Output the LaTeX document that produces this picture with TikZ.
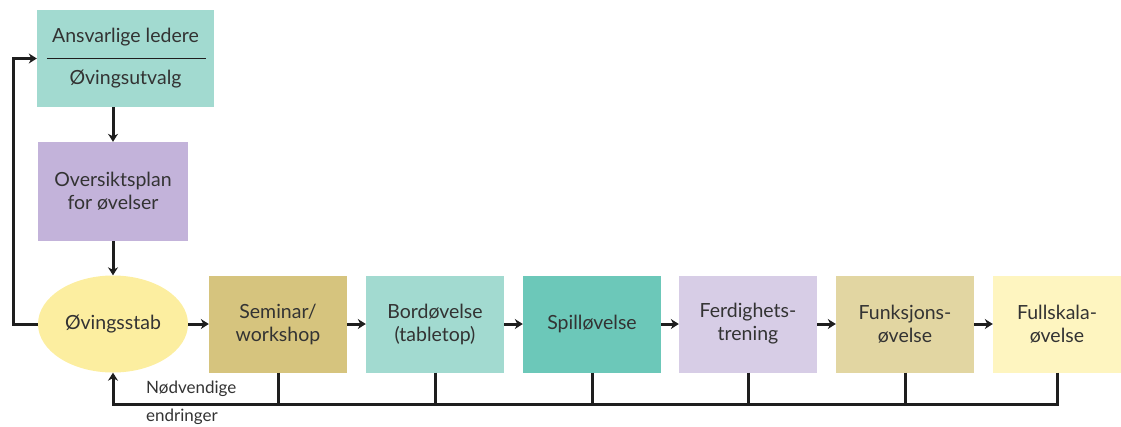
\documentclass[tikz,border=0pt]{standalone}
\usepackage{fontspec}
\setmainfont{Lato}
\usetikzlibrary{
  arrows.meta,
  shapes.geometric
}
\definecolor{textgrey}{HTML}{333333}
\definecolor{linegrey}{HTML}{1E1E1E}
\definecolor{tealpale}{HTML}{A2DAD0}
\definecolor{tealmid}{HTML}{6CC8B9}
\definecolor{lavender}{HTML}{C3B3DA}
\definecolor{lilac}{HTML}{D7CDE6}
\definecolor{butter}{HTML}{FCEEA0}
\definecolor{cream}{HTML}{FEF5C0}
\definecolor{olive}{HTML}{D6C47E}
\definecolor{sand}{HTML}{E2D6A2}
\tikzset{
  stepbox/.style={
    rectangle,
    minimum width=138pt,
    minimum height=97pt,
    inner sep=0pt,
    align=center,
    text=textgrey,
    font=\fontsize{19.5}{23}\selectfont
  },
  flow/.style={
    draw=linegrey,
    line width=3pt,
    -{Stealth[length=8pt,width=10pt]}
  },
  link/.style={
    draw=linegrey,
    line width=3pt
  }
}

\begin{document}
\begin{tikzpicture}[x=1pt,y=-1pt]
  \useasboundingbox (0,0) rectangle (1121,426);
  % planning column
  \node[stepbox, fill=tealpale, minimum width=177pt] (ledere) at (125.5,58.5) {Ansvarlige ledere\\[19pt]Øvingsutvalg};
  \draw[link, line width=1.6pt] ([xshift=10pt]ledere.west) -- ([xshift=-8pt]ledere.east);
  \node[stepbox, fill=lavender, minimum width=150pt, minimum height=99pt] (plan) at (113,191.5) {Oversiktsplan\\for øvelser};
  \node[stepbox, ellipse, fill=butter, minimum width=150pt] (stab) at (113,324) {Øvingsstab};
  % exercise chain
  \node[stepbox, fill=olive] (seminar) at (278,324) {Seminar/\\workshop};
  \node[stepbox, fill=tealpale] (bord) at (435,324) {Bordøvelse\\(tabletop)};
  \node[stepbox, fill=tealmid] (spill) at (592,324) {Spilløvelse};
  \node[stepbox, fill=lilac] (ferdighet) at (748,324) {Ferdighets-\\trening};
  \node[stepbox, fill=sand] (funksjon) at (905,324) {Funksjons-\\øvelse};
  \node[stepbox, fill=cream, minimum width=128pt] (fullskala) at (1057,324) {Fullskala-\\øvelse};
  \draw[flow] (plan.north |- ledere.south) -- (plan.north);
  \draw[flow] (plan.south) -- (stab.north);
  \draw[flow] (stab.west) -- ++(-24,0) |- (ledere.west);
  \draw[flow] (stab) -- (seminar);
  \draw[flow] (seminar) -- (bord);
  \draw[flow] (bord) -- (spill);
  \draw[flow] (spill) -- (ferdighet);
  \draw[flow] (ferdighet) -- (funksjon);
  \draw[flow] (funksjon) -- (fullskala);
  % feedback line
  \foreach \step in {seminar,bord,spill,ferdighet,funksjon}
    \draw[link] (\step.south) -- ++(0,32);
  \draw[flow] (fullskala.south) -- ++(0,32) -| (stab.south);
  \node[anchor=west, align=left, text=textgrey, inner sep=0pt, font=\fontsize{17}{28}\selectfont] (note) at (146,403) {Nødvendige\\endringer};
\end{tikzpicture}
\end{document}
